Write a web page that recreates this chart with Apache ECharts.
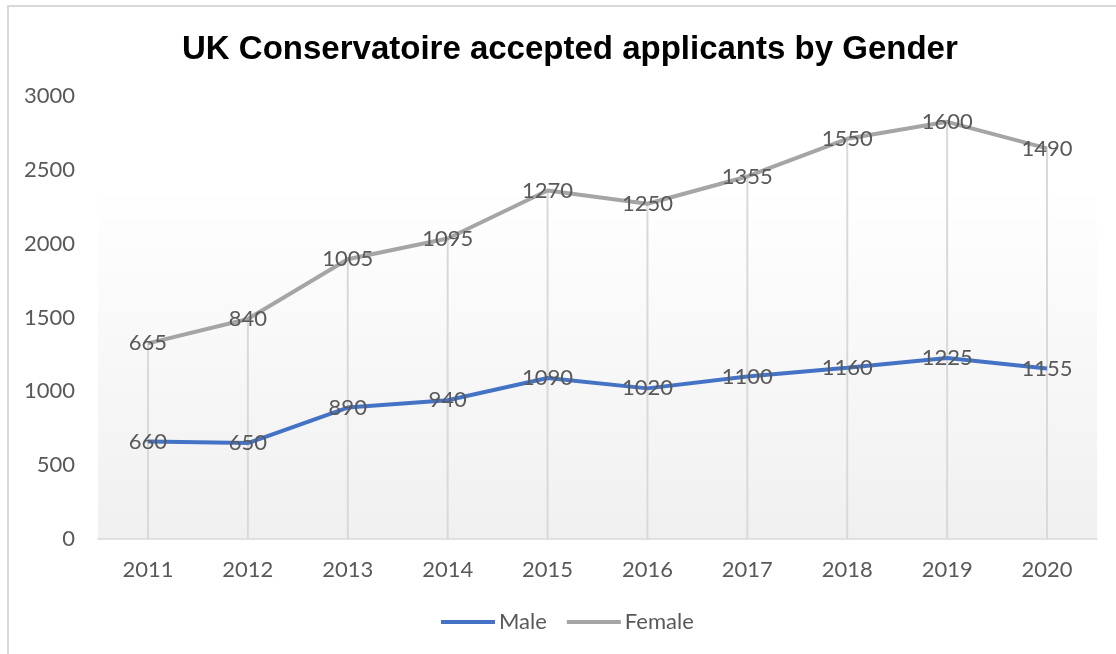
<!DOCTYPE html>
<html>
<head>
<meta charset="utf-8">
<script src="https://cdn.jsdelivr.net/npm/echarts@6/dist/echarts.min.js"></script>
<style>
  html, body { margin: 0; padding: 0; background: #ffffff; }
  #chart { width: 1116px; height: 654px; }
</style>
</head>
<body>
<div id="chart"></div>
<script>
// Accepted applicants per year, by gender
const years = ['2011', '2012', '2013', '2014', '2015', '2016', '2017', '2018', '2019', '2020'];
const male = [660, 650, 890, 940, 1090, 1020, 1100, 1160, 1225, 1155];
const female = [665, 840, 1005, 1095, 1270, 1250, 1355, 1550, 1600, 1490];
const yTicks = [0, 500, 1000, 1500, 2000, 2500, 3000];

// Female is stacked on Male, so drop lines reach the stacked total
const totals = male.map((m, i) => m + female[i]);

const labelStyle = {
  show: true,
  position: 'inside',
  color: '#595959',
  fontFamily: 'Lato',
  fontSize: 22
};

const chart = echarts.init(document.getElementById('chart'), null, { renderer: 'canvas' });
chart.setOption({
  animation: false,
  backgroundColor: '#ffffff',
  graphic: [{
    type: 'rect',
    shape: { x: 8, y: 6, width: 1200, height: 700 },
    style: { fill: 'none', stroke: '#d9d9d9', lineWidth: 2 },
    silent: true,
    z: -10
  }],
  title: {
    text: 'UK Conservatoire accepted applicants by Gender',
    left: 177,
    top: 28,
    textStyle: {
      fontFamily: 'Liberation Sans',
      fontWeight: 'bold',
      fontSize: 33,
      color: '#000000'
    }
  },
  legend: {
    data: ['Male', 'Female'],
    bottom: 16,
    left: 436,
    icon: 'rect',
    itemWidth: 54,
    itemHeight: 4,
    itemGap: 20,
    textStyle: { fontFamily: 'Lato', fontSize: 22, color: '#595959', padding: [0, 0, 0, -1] }
  },
  grid: {
    left: 98,
    right: 19,
    top: 96,
    bottom: 115,
    show: true,
    borderWidth: 0,
    backgroundColor: {
      type: 'linear', x: 0, y: 0, x2: 0, y2: 1,
      colorStops: [
        { offset: 0, color: '#ffffff' },
        { offset: 0.2, color: '#ffffff' },
        { offset: 1, color: '#f0f0f0' }
      ]
    }
  },
  xAxis: {
    type: 'category',
    data: years,
    boundaryGap: true,
    axisLine: { show: true, lineStyle: { color: '#d9d9d9', width: 1.5 } },
    axisTick: { show: false },
    axisLabel: { color: '#595959', fontFamily: 'Lato', fontSize: 22, margin: 20 },
    splitLine: { show: false }
  },
  yAxis: {
    type: 'value',
    min: yTicks[0],
    max: yTicks[yTicks.length - 1],
    interval: yTicks[1] - yTicks[0],
    axisLine: { show: false },
    axisTick: { show: false },
    splitLine: { show: false },
    axisLabel: {
      color: '#595959',
      fontFamily: 'Lato',
      fontSize: 22,
      margin: 23,
      formatter: (v) => String(v)
    }
  },
  series: [
    {
      name: 'drop',
      type: 'bar',
      data: totals,
      barWidth: 2,
      silent: true,
      itemStyle: { color: '#d9d9d9' },
      z: 1
    },
    {
      name: 'Male',
      type: 'line',
      stack: 'total',
      data: male,
      symbol: 'circle',
      symbolSize: 0.1,
      showSymbol: true,
      itemStyle: { color: '#4472c4' },
      lineStyle: { color: '#4472c4', width: 4 },
      label: labelStyle,
      z: 3
    },
    {
      name: 'Female',
      type: 'line',
      stack: 'total',
      data: female,
      symbol: 'circle',
      symbolSize: 0.1,
      showSymbol: true,
      itemStyle: { color: '#a5a5a5' },
      lineStyle: { color: '#a5a5a5', width: 4 },
      label: labelStyle,
      z: 3
    }
  ]
});
</script>
</body>
</html>
